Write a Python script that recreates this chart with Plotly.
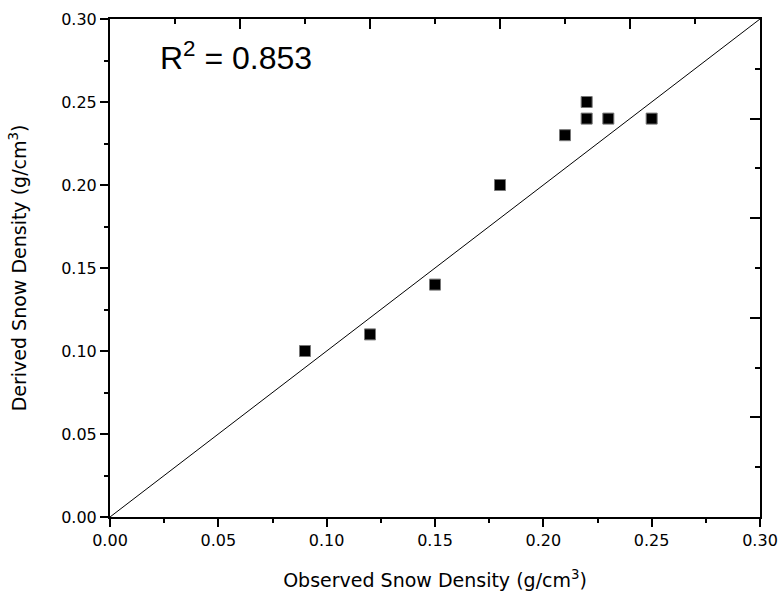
import plotly.graph_objects as go

observed = [0.09, 0.12, 0.15, 0.18, 0.21, 0.22, 0.22, 0.23, 0.25]
derived = [0.10, 0.11, 0.14, 0.20, 0.23, 0.25, 0.24, 0.24, 0.24]
one_to_one = [0.0, 0.30]
r2_text = "R<sup>2</sup> = 0.853"

FONT = "Liberation Sans, Arial, sans-serif"
WIDE = "DejaVu Sans, Liberation Sans, sans-serif"

fig = go.Figure()
fig.add_trace(go.Scatter(x=one_to_one, y=one_to_one, mode="lines",
                         line=dict(color="black", width=1), showlegend=False,
                         hoverinfo="skip"))
fig.add_trace(go.Scatter(x=observed, y=derived, mode="markers",
                         marker=dict(symbol="square", size=11, color="black",
                                     line=dict(color="#777777", width=1)),
                         showlegend=False))
fig.add_trace(go.Scatter(x=one_to_one, y=one_to_one, xaxis="x2", yaxis="y2",
                         mode="lines", line=dict(width=0), opacity=0,
                         showlegend=False, hoverinfo="skip"))

common = dict(range=[0, 0.30], showgrid=False, zeroline=False,
              showline=True, linecolor="black", linewidth=2, automargin=False)

tickfont = dict(size=16, family=WIDE, color="black")
titlefont = dict(size=19, family=WIDE, color="black")

fig.update_layout(
    width=783, height=599,
    margin=dict(l=110, r=23, t=19, b=82, autoexpand=False),
    plot_bgcolor="white", paper_bgcolor="white",
    font=dict(family=WIDE, color="black", size=16),
    xaxis=dict(**common, ticks="outside", ticklen=8, tickwidth=1.5,
               tickcolor="black", dtick=0.05, tickformat=".2f",
               tickfont=tickfont,
               minor=dict(ticks="outside", ticklen=4, dtick=0.025,
                          tickcolor="black", tickwidth=1.5),
               title=dict(text="Observed Snow Density (g/cm<sup>3</sup>)",
                          font=titlefont, standoff=24)),
    yaxis=dict(**common, ticks="outside", ticklen=8, tickwidth=1.5,
               tickcolor="black", dtick=0.05, tickformat=".2f",
               tickfont=tickfont,
               minor=dict(ticks="outside", ticklen=4, dtick=0.025,
                          tickcolor="black", tickwidth=1.5),
               title=dict(text="Derived Snow Density (g/cm<sup>3</sup>)",
                          font=titlefont, standoff=30)),
    xaxis2=dict(**common, overlaying="x", side="top", ticks="inside",
                ticklen=10, tickwidth=1.5, tickcolor="black", dtick=0.06,
                showticklabels=False,
                minor=dict(ticks="inside", ticklen=5, dtick=0.03,
                           tickcolor="black", tickwidth=1.5)),
    yaxis2=dict(**common, overlaying="y", side="right", ticks="inside",
                ticklen=10, tickwidth=1.5, tickcolor="black", dtick=0.06,
                showticklabels=False,
                minor=dict(ticks="inside", ticklen=5, dtick=0.03,
                           tickcolor="black", tickwidth=1.5)),
    annotations=[dict(x=0.022, y=0.2775, xref="x", yref="y", text=r2_text,
                      showarrow=False, xanchor="left", yanchor="middle",
                      font=dict(size=32, family=FONT))],
)

fig.write_html("out.html", config={"displayModeBar": False},
               post_script="document.body.style.margin='0px';document.body.style.padding='0px';")
